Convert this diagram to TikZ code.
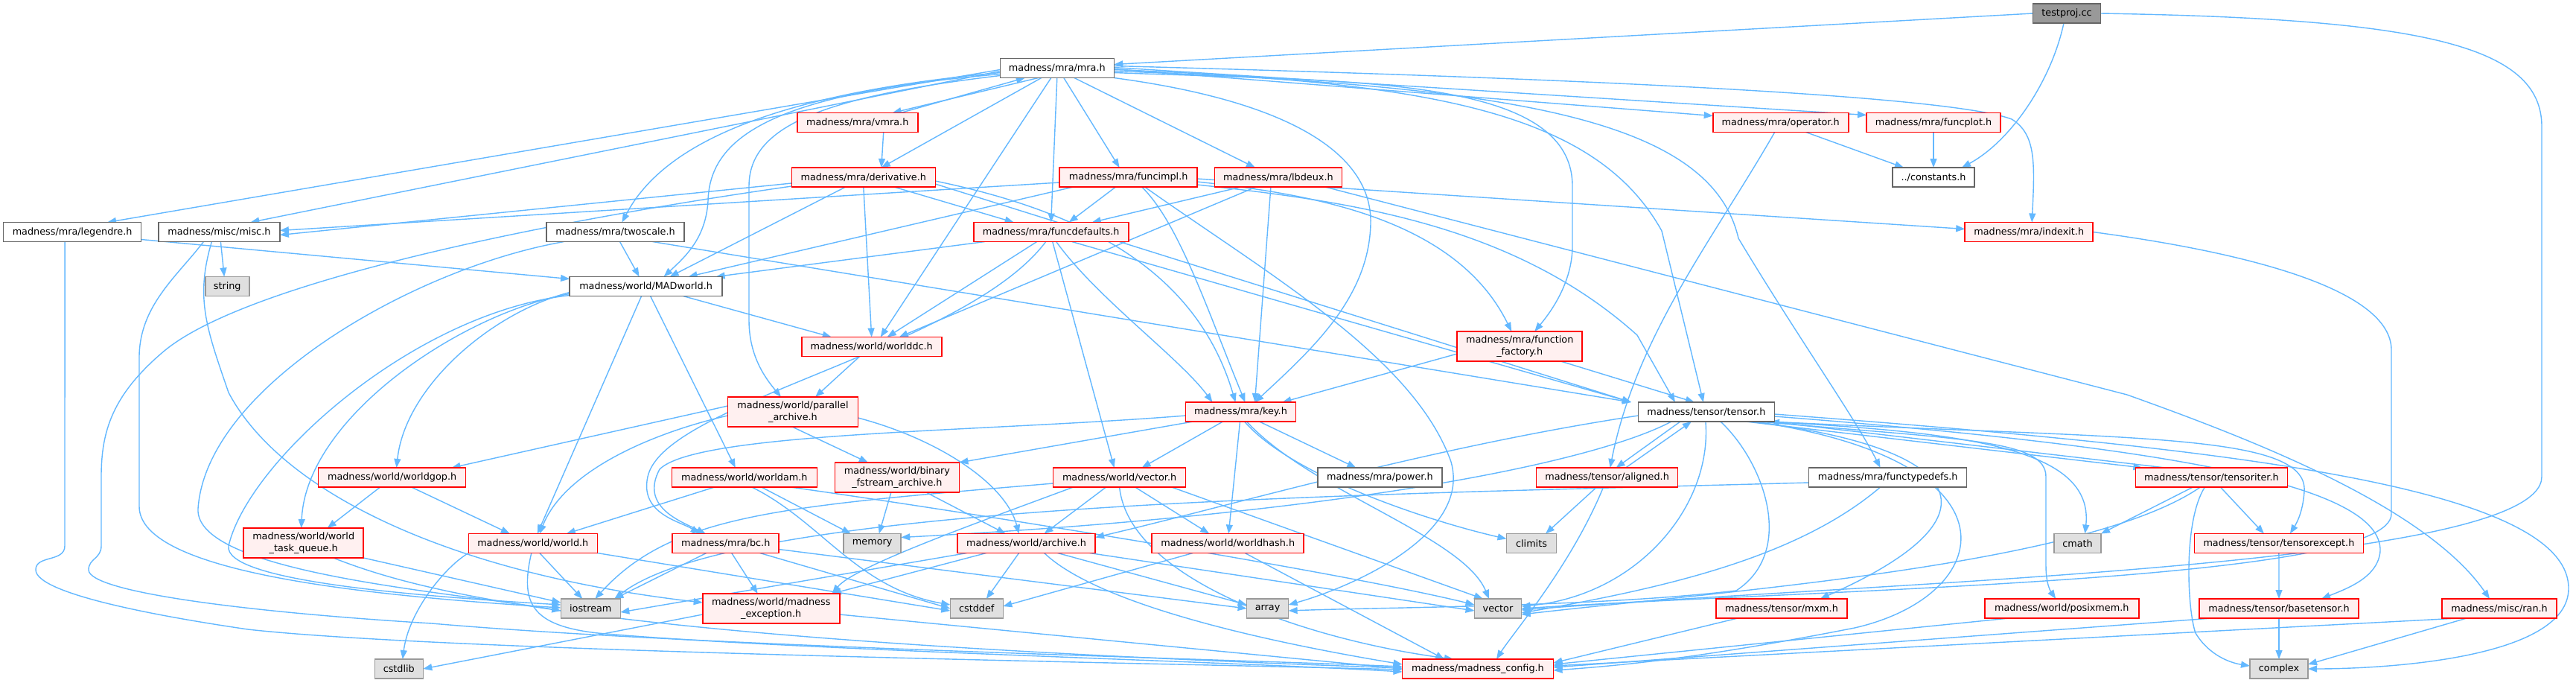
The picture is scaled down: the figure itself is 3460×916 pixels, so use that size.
\documentclass[tikz,border=0pt]{standalone}
\usepackage{fontspec}
\setmainfont{DejaVu Sans}
\usetikzlibrary{arrows.meta}
\definecolor{edgec}{HTML}{63B8FF}
\definecolor{redfill}{HTML}{FFF0F0}
\definecolor{grayfill}{HTML}{E0E0E0}
\definecolor{grayline}{HTML}{999999}
\definecolor{darkline}{HTML}{666666}
\definecolor{topfill}{HTML}{999999}
\pgfdeclarelayer{bglayer}
\pgfdeclarelayer{edgelayer}
\pgfsetlayers{bglayer,edgelayer,main}
\begin{document}
\begin{tikzpicture}[x=1pt,y=-1pt,font=\fontsize{12.8}{15.5}\selectfont,
  nbox/.style={inner sep=0pt,outer sep=0pt,minimum height=26pt,line width=1.6pt,align=center},
  rn/.style={nbox,draw=red,fill=redfill},
  wn/.style={nbox,draw=darkline,fill=white},
  gn/.style={nbox,draw=grayline,fill=grayfill},
  tn/.style={nbox,draw=darkline,fill=topfill},
  tall/.style={minimum height=40pt},
  edg/.style={draw=edgec,line width=1.4pt,-{Triangle[length=12pt,width=9pt]}}]
\begin{pgfonlayer}{bglayer}
\fill[white] (0,0) rectangle (3460,916);
\end{pgfonlayer}
\useasboundingbox (0,0) rectangle (3460,916);
% nodes
\node[tn,minimum width=91pt] (testproj) at (2776,18) {testproj.cc};
\node[wn,minimum width=153pt] (mra) at (1419.8,91.5) {madness/mra/mra.h};
\node[rn,minimum width=162pt] (vmra) at (1151.7,164.5) {madness/mra/vmra.h};
\node[rn,minimum width=193pt] (derivative) at (1159.8,238) {madness/mra/derivative.h};
\node[rn,minimum width=185pt] (funcimpl) at (1515.6,238) {madness/mra/funcimpl.h};
\node[rn,minimum width=171pt] (lbdeux) at (1716.9,238) {madness/mra/lbdeux.h};
\node[rn,minimum width=208pt] (funcdef) at (1411.7,311.5) {madness/mra/funcdefaults.h};
\node[rn,minimum width=182pt] (operator) at (2391.7,164.5) {madness/mra/operator.h};
\node[rn,minimum width=180pt] (funcplot) at (2597,164.5) {madness/mra/funcplot.h};
\node[wn,minimum width=110pt] (constants) at (2597,238) {../constants.h};
\node[rn,minimum width=172pt] (indexit) at (2725.2,311.5) {madness/mra/indexit.h};
\node[wn,minimum width=185pt] (legendre) at (97.1,311.5) {madness/mra/legendre.h};
\node[wn,minimum width=163pt] (misc) at (294.4,311.5) {madness/misc/misc.h};
\node[gn,minimum width=59pt] (string) at (305.2,384.5) {string};
\node[wn,minimum width=185pt] (twoscale) at (826.5,311.5) {madness/mra/twoscale.h};
\node[wn,minimum width=205pt] (madworld) at (867.6,384.5) {madness/world/MADworld.h};
\node[rn,minimum width=188pt] (worlddc) at (1170.7,465.5) {madness/world/worlddc.h};
\node[rn,tall,minimum width=168pt] (funcfact) at (2041.2,465) {madness/mra/function\\\_factory.h};
\node[rn,minimum width=148pt] (key) at (1666.5,553) {madness/mra/key.h};
\node[wn,minimum width=183pt] (tensor) at (2291.9,553) {madness/tensor/tensor.h};
\node[rn,tall,minimum width=175pt] (parar) at (1065,553) {madness/world/parallel\\\_archive.h};
\node[rn,minimum width=198pt] (worldgop) at (526.6,641) {madness/world/worldgop.h};
\node[rn,minimum width=195pt] (worldam) at (999.8,641) {madness/world/worldam.h};
\node[rn,tall,minimum width=167pt] (binfs) at (1204.9,641) {madness/world/binary\\\_fstream\_archive.h};
\node[rn,minimum width=178pt] (wvector) at (1503.6,641) {madness/world/vector.h};
\node[wn,minimum width=167pt] (power) at (1853.4,641) {madness/mra/power.h};
\node[rn,minimum width=190pt] (aligned) at (2158.6,641) {madness/tensor/aligned.h};
\node[wn,minimum width=212pt] (functypedefs) at (2535.6,641) {madness/mra/functypedefs.h};
\node[rn,minimum width=204pt] (tensoriter) at (2970.4,641) {madness/tensor/tensoriter.h};
\node[rn,tall,minimum width=161pt] (taskq) at (407.7,729) {madness/world/world\\\_task\_queue.h};
\node[rn,minimum width=173pt] (world) at (715.8,729.5) {madness/world/world.h};
\node[rn,minimum width=143pt] (bc) at (974.7,729.5) {madness/mra/bc.h};
\node[gn,minimum width=77pt] (memory) at (1171.7,729.5) {memory};
\node[rn,minimum width=185pt] (archive) at (1378.6,729.5) {madness/world/archive.h};
\node[rn,minimum width=204pt] (worldhash) at (1649.2,729.5) {madness/world/worldhash.h};
\node[gn,minimum width=67pt] (climits) at (2057,729.5) {climits};
\node[gn,minimum width=63pt] (cmath) at (2790.5,729.5) {cmath};
\node[rn,minimum width=227pt] (tensorexcept) at (3060.9,729.5) {madness/tensor/tensorexcept.h};
\node[gn,minimum width=80pt] (iostream) at (793.3,817) {iostream};
\node[rn,tall,minimum width=184pt] (mexc) at (1035.7,817) {madness/world/madness\\\_exception.h};
\node[gn,minimum width=71pt] (cstddef) at (1311.8,817) {cstddef};
\node[gn,minimum width=56pt] (array) at (1702.6,817) {array};
\node[gn,minimum width=63pt] (vector) at (2012,817) {vector};
\node[rn,minimum width=176pt] (mxm) at (2392.9,817) {madness/tensor/mxm.h};
\node[rn,minimum width=207pt] (posixmem) at (2769.2,817) {madness/world/posixmem.h};
\node[rn,minimum width=214pt] (basetensor) at (3061,817) {madness/tensor/basetensor.h};
\node[rn,minimum width=154pt] (ran) at (3357,817) {madness/misc/ran.h};
\node[gn,minimum width=65pt] (cstdlib) at (535.8,898) {cstdlib};
\node[rn,minimum width=203pt] (mconfig) at (1985,898) {madness/madness\_config.h};
\node[gn,minimum width=78pt] (complex) at (3061,898) {complex};
\begin{pgfonlayer}{edgelayer}
% testproj
\draw[edg] (testproj.west) -- ([yshift=5pt]mra.east);
\draw[edg] ([xshift=-4pt]testproj.south) .. controls (2755,110) and (2700,190) .. ([xshift=38pt]constants.north);
\draw[edg] (testproj.east) .. controls (3250,25) and (3414,60) .. (3414,170) -- (3414,640) .. controls (3414,760) and (2550,780) .. ([yshift=-2pt]vector.east);
\draw[edg] (indexit.east) .. controls (3025,340) and (3212,390) .. (3212,470) -- (3212,690) .. controls (3212,780) and (2470,790) .. (vector.east);
% mra
\draw[edg] ([yshift=-2pt]mra.west) -- ([xshift=47pt]legendre.north);
\draw[edg] ([yshift=-4pt]mra.west) -- ([xshift=42pt]misc.north);
\draw[edg] ([yshift=-6pt]mra.west) .. controls (1047,125) and (892,190) .. ([xshift=9pt]twoscale.north);
\draw[edg] ([yshift=-8pt]mra.west) .. controls (1047,125) and (953,180) .. (951,270) .. controls (948,320) and (920,345) .. ([xshift=24pt]madworld.north);
\draw[edg] ([yshift=-10pt]mra.west) .. controls (1103,130) and (1006,170) .. (1006,250) -- (1006,430) .. controls (1006,480) and (1030,510) .. ([xshift=-16pt]parar.north);
\draw[edg] ([xshift=-25pt]mra.south) -- ([xshift=47pt]vmra.north);
\draw[edg] ([xshift=58pt]vmra.north) -- ([xshift=-43pt]mra.south);
\draw[edg] ([xshift=-21pt]mra.south) -- ([xshift=24pt]derivative.north);
\draw[edg] ([xshift=-8pt]mra.south) -- ([xshift=12pt]worlddc.north);
\draw[edg] (mra.south) -- (funcdef.north);
\draw[edg] ([xshift=9pt]mra.south) -- ([xshift=-12pt]funcimpl.north);
\draw[edg] ([xshift=23pt]mra.south) -- ([xshift=-31pt]lbdeux.north);
\draw[edg] (mra.south east) .. controls (1761,140) and (1843,220) .. (1841,300) .. controls (1839,400) and (1761,470) .. ([xshift=19pt]key.north);
\draw[edg] ([yshift=-2pt]mra.east) .. controls (1921,110) and (2143,150) .. (2232,310) -- ([xshift=-4pt]tensor.north);
\draw[edg] ([yshift=-4pt]mra.east) .. controls (2032,115) and (2298,160) .. (2335,320) .. controls (2413,450) and (2491,560) .. ([xshift=-10pt]functypedefs.north);
\draw[edg] ([yshift=-6pt]mra.east) .. controls (1810,110) and (2112,100) .. (2112,250) -- (2112,330) .. controls (2112,380) and (2082,420) .. ([xshift=20pt]funcfact.north);
\draw[edg] ([yshift=-1pt]mra.east) -- ([yshift=9pt]operator.west);
\draw[edg] ([yshift=1pt]mra.east) -- ([yshift=-3pt]funcplot.north west);
\draw[edg] ([yshift=3pt]mra.east) .. controls (2302,110) and (2635,135) .. (2702,160) .. controls (2735,180) and (2733,220) .. ([xshift=4pt]indexit.north);
\draw[edg] ([xshift=35pt]vmra.south) -- ([xshift=24pt]derivative.north);
% derivative
\draw[edg] ([yshift=-8pt]derivative.west) -- ([yshift=-4pt]misc.east);
\draw[edg] ([xshift=-24pt]derivative.south) -- ([xshift=32pt]madworld.north);
\draw[edg] ([xshift=41pt]derivative.south) -- ([xshift=-50pt]funcdef.north);
\draw[edg] (derivative.south) -- (worlddc.north);
\draw[edg] ([yshift=-5pt]derivative.east) .. controls (1484,290) and (1612,380) .. ([xshift=-7pt]key.north);
\draw[edg] ([yshift=-9pt]derivative.east) -- ([xshift=-101pt]tensor.north);
\draw[edg] ([yshift=-12pt]derivative.west) .. controls (714,300) and (333,380) .. (222,470) .. controls (150,530) and (136,580) .. (136,640) -- (136,733) .. controls (136,750) and (119,750) .. (119,765) .. controls (119,795) and (333,822) .. (580,837) .. controls (936,868) and (1650,885) .. ([yshift=3pt]mconfig.west);
% funcimpl
\draw[edg] ([yshift=-7pt]funcimpl.west) -- ([yshift=2pt]misc.east);
\draw[edg] ([xshift=-74pt]funcimpl.south) -- ([xshift=57pt]madworld.north);
\draw[edg] ([xshift=-17pt]funcimpl.south) -- ([xshift=24pt]funcdef.north);
\draw[edg] ([xshift=18pt]funcimpl.south) .. controls (1584,300) and (1623,420) .. ([xshift=6pt]key.north);
\draw[edg] ([yshift=-10pt]funcimpl.east) .. controls (1810,270) and (2032,300) .. (2199,450) -- ([xshift=-42pt]tensor.north);
\draw[edg] ([yshift=-6pt]funcimpl.east) .. controls (1754,260) and (1954,290) .. ([xshift=-11pt]funcfact.north);
\draw[edg] ([yshift=-2pt]funcimpl.east) -- ([yshift=4pt]indexit.west);
\draw[edg] ([xshift=22pt]funcimpl.south) .. controls (1706,370) and (1899,480) .. (1949,620) .. controls (1977,720) and (1810,790) .. ([yshift=5pt]array.east);
% lbdeux
\draw[edg] ([xshift=-50pt]lbdeux.south) -- ([xshift=55pt]funcdef.north);
\draw[edg] ([xshift=-30pt]lbdeux.south) -- ([xshift=37pt]worlddc.north);
\draw[edg] ([xshift=-10pt]lbdeux.south) -- ([xshift=19pt]key.north);
\draw[edg] ([xshift=63pt]lbdeux.south) -- (2857,530) .. controls (3025,590) and (3258,680) .. ([xshift=-13pt]ran.north);
% funcdefaults
\draw[edg] ([xshift=-89pt]funcdef.south) -- ([xshift=94pt]madworld.north);
\draw[edg] ([xshift=-19pt]funcdef.south) -- ([xshift=21pt]worlddc.north);
\draw[edg] ([xshift=7pt]funcdef.south) .. controls (1473,400) and (1584,480) .. ([xshift=-38pt]key.north);
\draw[edg] ([xshift=28pt]funcdef.south) -- ([xshift=-101pt]tensor.north);
\draw[edg] ([xshift=2pt]funcdef.south) -- ([xshift=-7pt]wvector.north);
\draw[edg] ([xshift=-7pt]funcdef.south) .. controls (1295,470) and (892,540) .. (870,640) .. controls (859,690) and (914,700) .. ([xshift=-35pt]bc.north);
% worlddc, parallel archive
\draw[edg] ([xshift=-16pt]worlddc.south) -- ([xshift=30pt]parar.north);
\draw[edg] ([xshift=-1pt]parar.south) -- ([xshift=-39pt]binfs.north);
\draw[edg] ([yshift=-8pt]parar.east) .. controls (1262,590) and (1351,650) .. ([xshift=-10pt]archive.north);
\draw[edg] ([yshift=-5pt]parar.west) .. controls (881,580) and (759,630) .. ([xshift=9pt]world.north);
\draw[edg] ([yshift=8pt]parar.west) -- ([xshift=80pt]worldgop.north);
% MADworld
\draw[edg] ([xshift=50pt]madworld.south) -- ([xshift=-54pt]worlddc.north);
\draw[edg] ([yshift=-8pt]madworld.west) .. controls (659,420) and (544,520) .. ([xshift=6pt]worldgop.north);
\draw[edg] ([yshift=-10pt]madworld.west) .. controls (621,420) and (411,560) .. ([xshift=-3pt]taskq.north);
\draw[edg] ([xshift=-6pt]madworld.south) -- ([xshift=6pt]world.north);
\draw[edg] ([xshift=6pt]madworld.south) -- ([xshift=-12pt]worldam.north);
\draw[edg] ([yshift=-12pt]madworld.west) .. controls (555,420) and (333,620) .. (307,733) .. controls (300,780) and (555,800) .. ([yshift=5pt]iostream.west);
% legendre
\draw[edg] ([yshift=-10pt]legendre.east) -- ([yshift=10pt]madworld.west);
\draw[edg] ([xshift=-10pt]legendre.south) -- (87,733) .. controls (87,755) and (48,745) .. (48,765) .. controls (48,800) and (244,832) .. (333,845) .. controls (603,875) and (1540,890) .. ([yshift=-1pt]mconfig.west);
% misc
\draw[edg] ([xshift=2pt]misc.south) -- ([xshift=-4pt]string.north);
\draw[edg] ([xshift=-21pt]misc.south) .. controls (239,370) and (187,410) .. (187,480) -- (187,680) .. controls (187,770) and (499,800) .. ([yshift=1pt]iostream.west);
\draw[edg] ([xshift=-10pt]misc.south) .. controls (262,400) and (277,440) .. (307,527) .. controls (377,660) and (603,770) .. ([yshift=8pt]mexc.west);
% twoscale
\draw[edg] ([xshift=6pt]twoscale.south) -- ([xshift=-9pt]madworld.north);
\draw[edg] ([xshift=50pt]twoscale.south) -- ([xshift=-101pt]tensor.north);
\draw[edg] ([xshift=-69pt]twoscale.south) .. controls (555,360) and (277,520) .. (266,683) .. controls (261,770) and (610,795) .. ([yshift=-3pt]iostream.west);
% worldgop, worldam, binary
\draw[edg] ([xshift=-16pt]worldgop.south) -- ([xshift=32pt]taskq.north);
\draw[edg] ([xshift=26pt]worldgop.south) -- ([xshift=-31pt]world.north);
\draw[edg] ([xshift=-40pt]worldam.south) -- ([xshift=45pt]world.north);
\draw[edg] ([xshift=23pt]worldam.south) -- ([xshift=-29pt]memory.north);
\draw[edg] ([xshift=10pt]worldam.south) .. controls (1103,700) and (1151,790) .. ([yshift=5pt]cstddef.west);
\draw[edg] ([xshift=62pt]worldam.south) .. controls (1318,690) and (1810,770) .. ([yshift=5pt]vector.west);
\draw[edg] ([xshift=-8pt]binfs.south) -- ([xshift=9pt]memory.north);
\draw[edg] ([xshift=39pt]binfs.south) -- ([xshift=-28pt]archive.north);
% world/vector.h
\draw[edg] ([xshift=-18pt]wvector.south) -- ([xshift=24pt]archive.north);
\draw[edg] ([xshift=21pt]wvector.south) -- ([xshift=-25pt]worldhash.north);
\draw[edg] (wvector.south) .. controls (1517,780) and (1761,860) .. ([xshift=-33pt]mconfig.north);
\draw[edg] ([xshift=70pt]wvector.south) -- ([xshift=-20pt]vector.north);
\draw[edg] ([yshift=-8pt]wvector.west) .. controls (1048,680) and (903,690) .. ([xshift=6pt]iostream.north);
\draw[edg] ([xshift=-62pt]wvector.south) .. controls (1318,700) and (1148,760) .. ([xshift=82pt]mexc.north);
% key
\draw[edg] ([xshift=-24pt]key.south) -- ([xshift=30pt]wvector.north);
\draw[edg] ([xshift=25pt]key.south) -- ([xshift=-32pt]power.north);
\draw[edg] ([xshift=-1pt]key.south) -- ([xshift=1pt]worldhash.north);
\draw[edg] ([xshift=-64pt]key.south) -- (binfs.north east);
\draw[edg] ([xshift=5pt]key.south) .. controls (1736,640) and (1921,700) .. ([yshift=6pt]climits.west);
\draw[edg] ([xshift=8pt]key.south) .. controls (1761,660) and (1965,720) .. ([xshift=-12pt]vector.north);
\draw[edg] ([yshift=-5pt]key.west) .. controls (1318,580) and (936,580) .. (886,630) .. controls (859,680) and (914,700) .. ([xshift=-27pt]bc.north);
% tensor
\draw[edg] ([xshift=-35pt]tensor.south) -- ([xshift=12pt]aligned.north);
\draw[edg] ([xshift=25pt]aligned.north) -- ([xshift=-20pt]tensor.south);
\draw[edg] ([xshift=53pt]tensor.south) -- ([xshift=-93pt]tensoriter.north);
\draw[edg] ([xshift=-62pt]tensoriter.north) -- ([xshift=86pt]tensor.south);
\draw[edg] ([xshift=-47pt]tensor.south) .. controls (2143,620) and (1810,690) .. ([yshift=8pt]memory.east);
\draw[edg] ([yshift=-5pt]tensor.west) .. controls (1921,600) and (1650,680) .. ([yshift=8pt]archive.east);
\draw[edg] ([xshift=-1pt]tensor.south) .. controls (2300,680) and (2199,800) .. ([yshift=3pt]vector.east);
\draw[edg] ([xshift=19pt]tensor.south) .. controls (2369,620) and (2413,740) .. (2332,793) .. controls (2143,815) and (1865,815) .. ([yshift=-3pt]array.east);
\draw[edg] ([xshift=60pt]tensor.south) .. controls (2635,600) and (2702,690) .. ([xshift=52pt]mxm.north);
\draw[edg] ([xshift=65pt]tensor.south) .. controls (2724,620) and (2680,800) .. (2491,843) .. controls (2302,880) and (2199,892) .. ([yshift=-2pt]mconfig.east);
\draw[edg] ([xshift=70pt]tensor.south) .. controls (2635,590) and (2748,590) .. (2748,640) -- (2748,760) .. controls (2748,785) and (2755,795) .. ([xshift=-8pt]posixmem.north);
\draw[edg] ([xshift=78pt]tensor.south) .. controls (2635,580) and (2813,600) .. ([xshift=10pt]cmath.north);
\draw[edg] ([xshift=85pt]tensor.south) .. controls (2857,590) and (3101,580) .. (3095,660) .. controls (3093,690) and (3083,705) .. ([xshift=15pt]tensorexcept.north);
\draw[edg] ([yshift=-6pt]tensor.east) .. controls (2908,600) and (3200,650) .. (3197,740) .. controls (3194,775) and (3153,790) .. ([xshift=57pt]basetensor.north);
\draw[edg] ([yshift=-3pt]tensor.east) .. controls (2967,600) and (3450,650) .. (3450,790) .. controls (3450,885) and (3200,898) .. (complex.east);
% aligned, operator, funcplot, function factory
\draw[edg] ([xshift=-14pt]aligned.south) -- ([xshift=19pt]climits.north);
\draw[edg] ([xshift=-5pt]aligned.south) .. controls (2110,760) and (2032,850) .. ([xshift=25pt]mconfig.north);
\draw[edg] ([xshift=34pt]operator.south) -- ([xshift=-40pt]constants.north);
\draw[edg] ([xshift=-8pt]operator.south) .. controls (2302,320) and (2198,450) .. ([xshift=4pt]aligned.north);
\draw[edg] (funcplot.south) -- (constants.north);
\draw[edg] ([yshift=-10pt]funcfact.west) -- ([xshift=56pt]key.north);
\draw[edg] ([xshift=55pt]funcfact.south) -- ([xshift=-16pt]tensor.north);
% functypedefs
\draw[edg] ([xshift=-10pt]functypedefs.south) .. controls (2413,750) and (2232,790) .. ([yshift=-6pt]vector.east);
\draw[edg] ([yshift=-7pt]functypedefs.west) .. controls (1810,665) and (992,675) .. ([xshift=32pt]iostream.north);
% tensoriter
\draw[edg] ([xshift=12pt]tensoriter.south) -- ([xshift=-20pt]tensorexcept.north);
\draw[edg] ([xshift=-25pt]tensoriter.south) -- (cmath.north east);
\draw[edg] ([xshift=-9pt]tensoriter.south) .. controls (2932,700) and (2938,820) .. (2949,850) .. controls (2967,880) and (2996,890) .. ([yshift=4pt]complex.west);
\draw[edg] ([xshift=-15pt]tensoriter.south) .. controls (2802,760) and (2302,795) .. ([yshift=-8pt]vector.east);
% lower tensor files
\draw[edg] (tensorexcept.south) -- (basetensor.north);
\draw[edg] (basetensor.south) -- (complex.north);
\draw[edg] ([xshift=-90pt]basetensor.south) -- ([yshift=2pt]mconfig.east);
\draw[edg] ([xshift=-44pt]ran.south) -- ([yshift=6pt]complex.east);
\draw[edg] ([xshift=-55pt]ran.south) -- ([yshift=4pt]mconfig.east);
\draw[edg] ([xshift=-71pt]posixmem.south) -- ([yshift=6pt]mconfig.east);
\draw[edg] ([xshift=-59pt]mxm.south) -- ([yshift=8pt]mconfig.east);
% archive
\draw[edg] ([xshift=-10pt]archive.south) -- ([xshift=13pt]cstddef.north);
\draw[edg] ([xshift=42pt]archive.south) -- ([yshift=5pt]array.west);
\draw[edg] ([xshift=85pt]archive.south) -- ([yshift=-3pt]vector.west);
\draw[edg] ([xshift=-80pt]archive.south) -- ([yshift=-5pt]iostream.east);
\draw[edg] ([xshift=-54pt]archive.south) -- ([xshift=82pt]mexc.north);
\draw[edg] ([xshift=24pt]archive.south) .. controls (1484,820) and (1751,870) .. ([yshift=6pt]mconfig.west);
% worldhash
\draw[edg] ([xshift=-47pt]worldhash.south) -- ([yshift=3pt]cstddef.east);
\draw[edg] ([xshift=23pt]worldhash.south) -- ([xshift=-45pt]mconfig.north);
% world.h
\draw[edg] ([xshift=9pt]world.south) -- ([xshift=-11pt]iostream.north);
\draw[edg] ([xshift=-2pt]world.south) .. controls (698,810) and (714,840) .. (803,850) .. controls (1047,872) and (1650,888) .. ([yshift=-4pt]mconfig.west);
\draw[edg] (world.south east) -- ([yshift=-3pt]cstddef.west);
\draw[edg] (world.south west) .. controls (599,760) and (549,820) .. ([xshift=5pt]cstdlib.north);
% bc
\draw[edg] ([xshift=-26pt]bc.south) -- ([xshift=32pt]iostream.north);
\draw[edg] ([xshift=8pt]bc.south) -- ([xshift=-18pt]mexc.north);
\draw[edg] ([xshift=46pt]bc.south) -- (cstddef.west);
\draw[edg] ([yshift=-8pt]bc.east) -- (array.west);
% exception, task queue
\draw[edg] ([yshift=-8pt]mexc.west) -- (cstdlib.east);
\draw[edg] ([yshift=-8pt]mexc.east) -- (mconfig.west);
\draw[edg] (taskq.south east) -- ([yshift=8pt]iostream.west);
\draw[edg] ([xshift=40pt]taskq.south) .. controls (577,800) and (825,860) .. ([yshift=1pt]mconfig.west);
\end{pgfonlayer}
\end{tikzpicture}
\end{document}
